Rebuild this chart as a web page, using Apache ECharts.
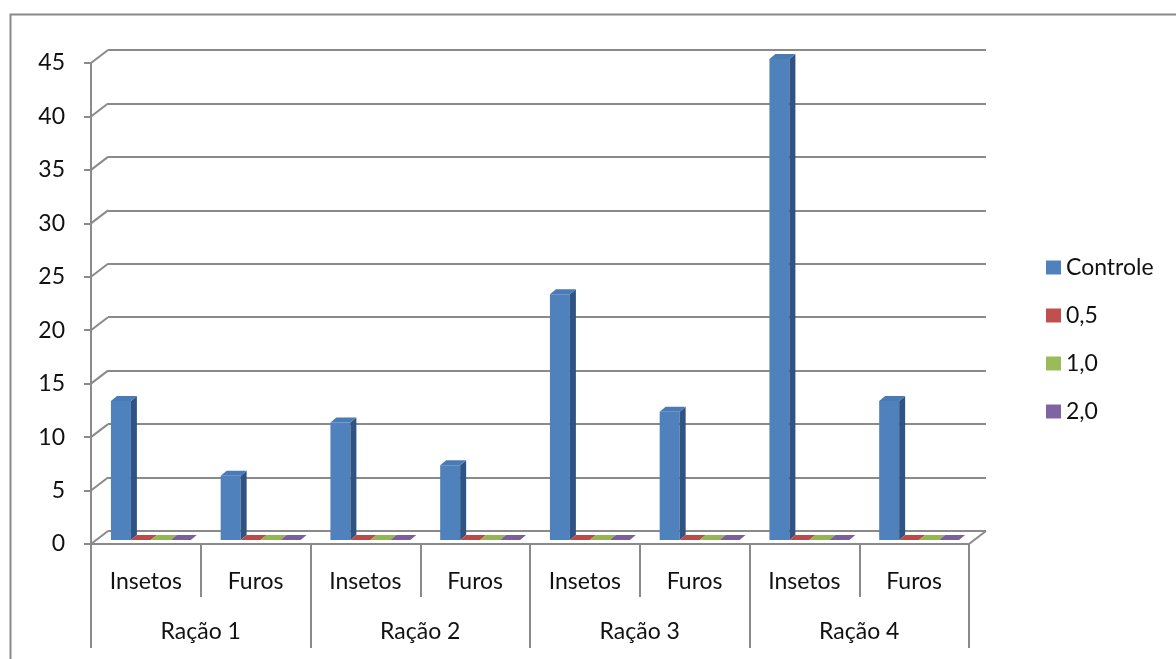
<!DOCTYPE html>
<html>
<head>
<meta charset="utf-8">
<script src="https://cdn.jsdelivr.net/npm/echarts@6/dist/echarts.min.js"></script>
<style>
  html, body { margin: 0; padding: 0; background: #fff; }
  #chart { width: 1176px; height: 659px; }
</style>
</head>
<body>
<div id="chart"></div>
<script>
// Categories (inner level) and their groups (outer level)
const categories = ['Insetos', 'Furos', 'Insetos', 'Furos', 'Insetos', 'Furos', 'Insetos', 'Furos'];
const groups = ['Ração 1', 'Ração 2', 'Ração 3', 'Ração 4'];

// Series values
const seriesNames = ['Controle', '0,5', '1,0', '2,0'];
const controle = [13, 6, 11, 7, 23, 12, 45, 13];
const dose05 = [0, 0, 0, 0, 0, 0, 0, 0];
const dose10 = [0, 0, 0, 0, 0, 0, 0, 0];
const dose20 = [0, 0, 0, 0, 0, 0, 0, 0];
const seriesValues = [controle, dose05, dose10, dose20];

// Value axis ticks
const yMin = 0, yMax = 45, yStep = 5;
const yTicks = [0, 5, 10, 15, 20, 25, 30, 35, 40, 45];

// Face colours: front, side, top
const palette = [
  { front: '#4F81BD', side: '#2F5483', top: '#4A7BB7' },
  { front: '#C0504D', side: '#8A3735', top: '#B94B48' },
  { front: '#9BBB59', side: '#6F8A3C', top: '#94B455' },
  { front: '#8064A2', side: '#5A4676', top: '#7A5F9B' }
];

// 3D geometry
const FRONT = { left: 91, top: 63, width: 878, height: 481 };
const WALL_DX = 17, WALL_DY = -13;      // front plane -> back wall
const BAR_OFF_X = 5, BAR_OFF_Y = -4;    // bars sit slightly behind the front plane
const BAR_DX = 6, BAR_DY = -5;          // bar depth
const BAR_FRAC = 0.182;                 // bar width as a share of a category band
const LINE = '#8A8A8A';
const TEXT = '#111111';
const FONT = 'Lato, "Open Sans", sans-serif';
const FONT_SIZE = 23;

function boxRenderer(si) {
  const c = palette[si];
  return function (params, api) {
    const cat = api.value(0), v = api.value(1);
    const base = api.coord([cat, 0]);
    const top = api.coord([cat, v]);
    const band = api.size([1, 0])[0];
    const bw = band * BAR_FRAC;
    const x0 = base[0] + (si - 1.5) * bw - bw / 2 + BAR_OFF_X;
    const x1 = x0 + bw;
    const yb = base[1] + BAR_OFF_Y;
    const yt = top[1] + BAR_OFF_Y;
    const children = [];
    if (yb - yt > 0.5) {
      children.push({ type: 'rect', shape: { x: x0, y: yt, width: bw, height: yb - yt },
        style: { fill: c.front } });
      children.push({ type: 'polygon', shape: { points: [[x1, yt], [x1 + BAR_DX, yt + BAR_DY], [x1 + BAR_DX, yb + BAR_DY], [x1, yb]] },
        style: { fill: c.side } });
    }
    children.push({ type: 'polygon', shape: { points: [[x0, yt], [x0 + BAR_DX, yt + BAR_DY], [x1 + BAR_DX, yt + BAR_DY], [x1, yt]] },
      style: { fill: c.top } });
    return { type: 'group', children: children };
  };
}

const barSeries = seriesValues.map(function (vals, si) {
  return {
    name: seriesNames[si],
    type: 'custom',
    xAxisIndex: 0, yAxisIndex: 0,
    itemStyle: { color: palette[si].front },
    encode: { x: 0, y: 1 },
    data: vals.map(function (v, i) { return [i, v]; }),
    renderItem: boxRenderer(si),
    z: 5 + si,
    silent: true
  };
});

// Connectors from the front value axis to the back wall, plus the right floor edge
const connectorSeries = {
  type: 'custom',
  xAxisIndex: 0, yAxisIndex: 0,
  data: yTicks.map(function (v) { return [0, v]; }),
  encode: { y: 1 },
  renderItem: function (params, api) {
    const cs = params.coordSys;
    const y = api.coord([0, api.value(1)])[1];
    const children = [{ type: 'line', shape: { x1: cs.x, y1: y, x2: cs.x + WALL_DX, y2: y + WALL_DY },
      style: { stroke: LINE, lineWidth: 2 } }];
    if (api.value(1) === yMin) {
      children.push({ type: 'line', shape: { x1: cs.x + cs.width, y1: y, x2: cs.x + cs.width + WALL_DX, y2: y + WALL_DY },
        style: { stroke: LINE, lineWidth: 2 } });
    }
    return { type: 'group', children: children };
  },
  z: 3,
  silent: true
};

const chart = echarts.init(document.getElementById('chart'));
chart.setOption({
  animation: false,
  backgroundColor: '#fff',
  textStyle: { fontFamily: FONT },
  graphic: [{
    type: 'rect', left: 8, top: 12, z: -10,
    shape: { x: 0, y: 0, width: 1200, height: 700 },
    style: { fill: 'none', stroke: LINE, lineWidth: 2 }
  }],
  grid: [
    { left: FRONT.left, top: FRONT.top, width: FRONT.width, height: FRONT.height, containLabel: false },
    { left: FRONT.left + WALL_DX, top: FRONT.top + WALL_DY, width: FRONT.width, height: FRONT.height, containLabel: false }
  ],
  xAxis: [
    {
      type: 'category', gridIndex: 0, data: categories, position: 'bottom',
      axisLine: { show: true, lineStyle: { color: LINE, width: 2 } },
      axisTick: { show: true, interval: 0, length: 53, lineStyle: { color: LINE, width: 2 } },
      axisLabel: { interval: 0, margin: 26, fontSize: FONT_SIZE, color: TEXT, fontFamily: FONT },
      splitLine: { show: false }
    },
    {
      type: 'category', gridIndex: 0, data: groups, position: 'bottom',
      axisLine: { show: false },
      axisTick: { show: true, interval: 0, length: 104, lineStyle: { color: LINE, width: 2 } },
      axisLabel: { interval: 0, margin: 76, fontSize: FONT_SIZE, color: TEXT, fontFamily: FONT },
      splitLine: { show: false }
    },
    {
      type: 'category', gridIndex: 1, data: categories, show: false
    }
  ],
  yAxis: [
    {
      type: 'value', gridIndex: 0, min: yMin, max: yMax, interval: yStep,
      axisLine: { show: true, lineStyle: { color: LINE, width: 2 } },
      axisTick: { show: true, length: 7, lineStyle: { color: LINE, width: 2 } },
      axisLabel: { margin: 26, fontSize: FONT_SIZE, color: TEXT, fontFamily: FONT },
      splitLine: { show: false }
    },
    {
      type: 'value', gridIndex: 1, min: yMin, max: yMax, interval: yStep,
      axisLine: { show: false }, axisTick: { show: false }, axisLabel: { show: false },
      splitLine: { show: true, lineStyle: { color: LINE, width: 2 } }
    }
  ],
  legend: {
    data: seriesNames,
    orient: 'vertical',
    left: 1046, top: 256,
    padding: 0,
    itemWidth: 15, itemHeight: 14, itemGap: 25,
    icon: 'rect',
    textStyle: { fontSize: FONT_SIZE, color: TEXT, fontFamily: FONT, lineHeight: 21 },
    selectedMode: false
  },
  series: [connectorSeries].concat(barSeries)
});
</script>
</body>
</html>
